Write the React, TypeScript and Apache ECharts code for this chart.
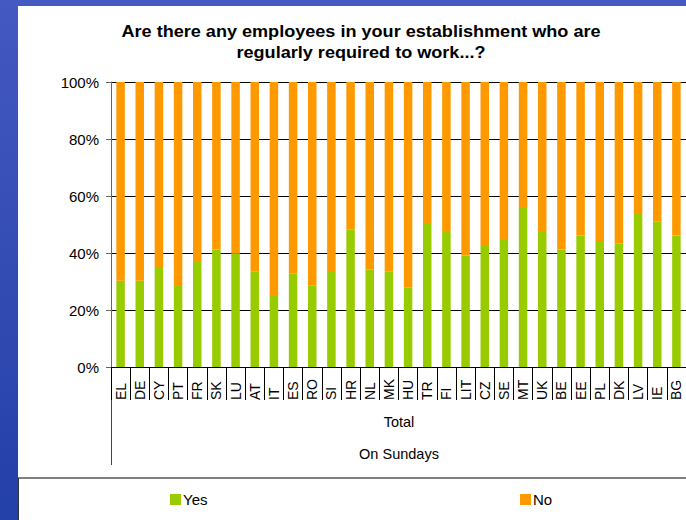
import React, { useEffect, useRef } from "react";
import * as echarts from "echarts";

const categories = ["EL","DE","CY","PT","FR","SK","LU","AT","IT","ES","RO","SI","HR","NL","MK","HU","TR","FI","LIT","CZ","SE","MT","UK","BE","EE","PL","DK","LV","IE","BG"];
const yesValues = [30.3,30.3,35.1,28.8,37.2,41.2,39.9,33.4,25.3,32.7,28.5,33.7,48.2,34.1,33.4,27.8,50.5,47.7,39.1,42.8,44.9,56.1,47.7,41.2,46.1,44.2,43.3,54.0,51.0,46.1];
const noValues = [69.7,69.7,64.9,71.2,62.8,58.8,60.1,66.6,74.7,67.3,71.5,66.3,51.8,65.9,66.6,72.2,49.5,52.3,60.9,57.2,55.1,43.9,52.3,58.8,53.9,55.8,56.7,46.0,49.0,53.9];
const yTicks = [0, 20, 40, 60, 80, 100];
const titleLines = ["Are there any employees in your establishment who are", "regularly required to work...?"];
const groupLabels = ["Total", "On Sundays"];
const seriesNames = ["Yes", "No"];

const FONT = "'Liberation Sans', Arial, sans-serif";

export default function App() {
  const ref = useRef<HTMLDivElement>(null);
  useEffect(() => {
    if (!ref.current) return;
    const chart = echarts.init(ref.current, null, { renderer: "svg" });
    chart.setOption({
      animation: false,
      backgroundColor: "#ffffff",
      textStyle: { fontFamily: FONT },
      grid: { left: 111, right: 0, top: 82, bottom: 153, containLabel: false },
      xAxis: {
        type: "category",
        data: categories,
        axisLine: { show: true, lineStyle: { color: "#000", width: 1 } },
        axisTick: { show: true, interval: 0, length: 33, lineStyle: { color: "#000" } },
        axisLabel: {
          interval: 0,
          rotate: 90,
          align: "left",
          verticalAlign: "middle",
          margin: 33,
          fontSize: 14,
          color: "#000",
          fontFamily: FONT,
        },
      },
      yAxis: {
        type: "value",
        min: yTicks[0],
        max: yTicks[yTicks.length - 1],
        interval: 20,
        axisLine: { show: true, lineStyle: { color: "#666" } },
        axisTick: { show: true, length: 5, lineStyle: { color: "#666" } },
        axisLabel: { formatter: "{value}%", fontSize: 15, color: "#000", margin: 12, fontFamily: FONT },
        splitLine: { show: true, lineStyle: { color: "#000", width: 1 } },
      },
      legend: [
        {
          data: [seriesNames[0]],
          left: 170,
          top: 492,
          icon: "rect",
          itemWidth: 11,
          itemHeight: 11,
          padding: 0,
          textStyle: { fontSize: 15, color: "#000", fontFamily: FONT, padding: [0, 0, 0, -3] },
        },
        {
          data: [seriesNames[1]],
          left: 520,
          top: 492,
          icon: "rect",
          itemWidth: 11,
          itemHeight: 11,
          padding: 0,
          textStyle: { fontSize: 15, color: "#000", fontFamily: FONT, padding: [0, 0, 0, -3] },
        },
      ],
      series: [
        {
          name: seriesNames[0],
          type: "bar",
          stack: "total",
          data: yesValues,
          barWidth: 8.5,
          itemStyle: { color: "#99cc00" },
        },
        {
          name: seriesNames[1],
          type: "bar",
          stack: "total",
          data: noValues,
          barWidth: 8.5,
          itemStyle: { color: "#ff9900" },
        },
      ],
      graphic: [
        {
          type: "rect",
          shape: { x: 0, y: 0, width: 18, height: 520 },
          style: {
            fill: new echarts.graphic.LinearGradient(0, 0, 0, 1, [
              { offset: 0, color: "#4459c1" },
              { offset: 1, color: "#2340a8" },
            ]),
          },
          silent: true,
        },
        {
          type: "rect",
          shape: { x: 0, y: 0, width: 686, height: 6 },
          style: { fill: "#4459c1" },
          silent: true,
        },
        {
          type: "line",
          shape: { x1: 18, y1: 478, x2: 690, y2: 478 },
          style: { stroke: "#808080", lineWidth: 2 },
          silent: true,
        },
        {
          type: "line",
          shape: { x1: 18.5, y1: 478, x2: 18.5, y2: 520 },
          style: { stroke: "#333", lineWidth: 1 },
          silent: true,
        },
        {
          type: "line",
          shape: { x1: 111.5, y1: 367, x2: 111.5, y2: 465 },
          style: { stroke: "#444", lineWidth: 1 },
          silent: true,
        },
        {
          type: "text",
          x: 361,
          y: 32,
          scaleX: 1.13,
          style: {
            text: titleLines[0],
            font: `bold 16px ${FONT}`,
            fill: "#000",
            textAlign: "center",
            textVerticalAlign: "middle",
          },
        },
        {
          type: "text",
          x: 361,
          y: 53,
          scaleX: 1.13,
          style: {
            text: titleLines[1],
            font: `bold 16px ${FONT}`,
            fill: "#000",
            textAlign: "center",
            textVerticalAlign: "middle",
          },
        },
        {
          type: "text",
          x: 399,
          y: 422,
          style: {
            text: groupLabels[0],
            font: `14.5px ${FONT}`,
            fill: "#000",
            textAlign: "center",
            textVerticalAlign: "middle",
          },
        },
        {
          type: "text",
          x: 399,
          y: 454,
          style: {
            text: groupLabels[1],
            font: `14.5px ${FONT}`,
            fill: "#000",
            textAlign: "center",
            textVerticalAlign: "middle",
          },
        },
      ],
    });
    return () => chart.dispose();
  }, []);
  return (
    <div
      ref={ref}
      style={{ position: "absolute", left: 0, top: 0, width: 686, height: 520, background: "#fff" }}
    />
  );
}
